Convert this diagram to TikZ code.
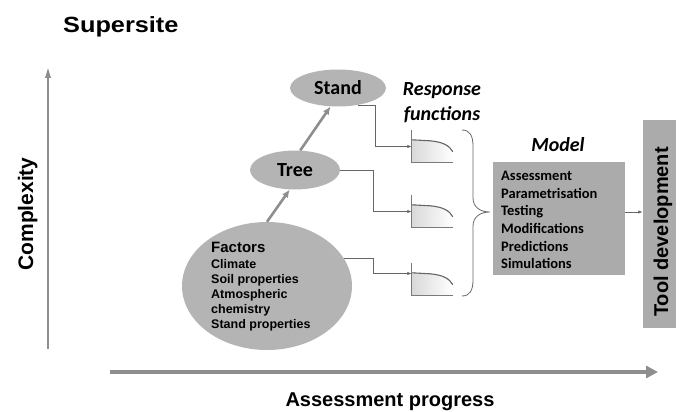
\documentclass[tikz,border=0pt]{standalone}
\usepackage{fontspec}
\setmainfont{Carlito}
\newfontfamily\arialf{Liberation Sans}
\newfontfamily\arialwide{Liberation Sans}[FakeStretch=1.15]
\usetikzlibrary{arrows.meta,shapes.geometric}

\definecolor{blobgray}{HTML}{B4B4B4}
\definecolor{boxgray}{HTML}{ABABAB}
\definecolor{arrowgray}{HTML}{8E8E8E}
\definecolor{wiregray}{HTML}{666666}
\definecolor{axisgray}{HTML}{7A7A7A}

\begin{document}
\begin{tikzpicture}[x=1pt,y=-1pt,
  blob/.style={ellipse, fill=blobgray, inner sep=0, text=black},
  blobtext/.style={font=\bfseries\fontsize{20}{24}\selectfont},
  growarrow/.style={draw=arrowgray, line width=2.6pt, -{Latex[length=8pt,width=7pt]}},
  wire/.style={draw=wiregray, line width=0.8pt, -{Latex[length=4.5pt,width=3.5pt]}},
  bracepen/.style={draw=wiregray, line width=0.8pt},
  rfbox/.style={rectangle, minimum width=41pt, minimum height=33pt, inner sep=0},
  greybox/.style={rectangle, fill=boxgray, inner sep=0},
  heading/.style={font=\arialf\bfseries\fontsize{20}{24}\selectfont, inner sep=0},
  respcurve/.pic={
    \fill[left color=gray!30, right color=white]
      (0,10) -- (18,11) .. controls (31,12) and (38,16) .. (41,22)
      -- (41,33) -- (0,33) -- cycle;
    \draw[axisgray, line width=0.9pt] (0,0) -- (0,33) -- (41,33);
    \draw[wiregray, line width=1.1pt]
      (0,10) -- (18,11) .. controls (31,12) and (38,16) .. (41,22);
  }
]
\useasboundingbox (0,0) rectangle (681,412);

% title and axis labels
\node[anchor=base west, inner sep=0, font=\arialwide\bfseries\fontsize{22}{26}\selectfont] (title) at (63,32.7) {Supersite};
\node[heading, rotate=90, anchor=base, font=\arialf\bfseries\fontsize{21}{25}\selectfont] (ylabel) at (33,214) {Complexity};
\node[heading, anchor=base] (xlabel) at (390,406.7) {Assessment progress};

% axes
\coordinate (ybot) at (48,349);
\coordinate (ytop) at (48,68);
\draw[draw=arrowgray, line width=1.6pt, -{Triangle[length=10pt,width=5.5pt]}] (ybot) -- (ytop);
\coordinate (xleft) at (110,372);
\coordinate (xright) at (658,372);
\draw[draw=arrowgray, line width=4.5pt, -{Triangle[length=12pt,width=12pt]}] (xleft) -- (xright);

% levels
\node[blob, minimum width=170pt, minimum height=128pt] (factors) at (267,286) {};
\node[anchor=north west, align=left, inner sep=0, text=black,
      font=\arialf\bfseries\fontsize{12.5}{15.2}\selectfont] (factorstext) at (211,242.3)
  {{\fontsize{15}{15.2}\selectfont Factors}\\Climate\\Soil properties\\Atmospheric\\chemistry\\Stand properties};
\node[blob, blobtext, minimum width=90pt, minimum height=39pt] (tree) at (295,170) {Tree};
\node[blob, blobtext, minimum width=96pt, minimum height=37pt] (stand) at (338,88) {Stand};

\draw[growarrow] (factors.north) -- (tree.-105);
\draw[growarrow] (tree.75) -- (stand.-112);

% response functions
\node[anchor=north, align=center, inner sep=0,
      font=\bfseries\itshape\fontsize{20}{25}\selectfont] (resp) at (442,82.1) {Response\\functions};
\node[rfbox] (rf1) at (432.5,146.5) {};
\node[rfbox] (rf2) at (432.5,211.5) {};
\node[rfbox] (rf3) at (432.5,279.5) {};
\pic at (rf1.north west) {respcurve};
\pic at (rf2.north west) {respcurve};
\pic at (rf3.north west) {respcurve};

\coordinate (bus) at (373,0);
\coordinate (bustop) at (375,0);
\draw[wire] (stand.-40) -- (stand.-40 -| bustop) |- (rf1.west);
\draw[wire] (tree.east) -- (tree.east -| bus) |- (rf2.west);
\draw[wire] (factors.20) -- (factors.20 -| bus) |- ([yshift=6pt]rf3.west);

% brace gathering the response functions
\draw[bracepen] (462,130) .. controls (470,130) and (473,136) .. (473,146)
  -- (473,198) .. controls (473,207) and (480,212) .. (490,212)
  .. controls (480,212) and (473,217) .. (473,226)
  -- (473,280) .. controls (473,290) and (470,296) .. (462,296);

% model
\node[anchor=base, inner sep=0, font=\bfseries\itshape\fontsize{20}{24}\selectfont] (modeltitle) at (558,152) {Model};
\node[greybox, minimum width=132pt, minimum height=113pt] (model) at (559,218.5) {};
\node[anchor=north west, align=left, inner sep=0, text=black,
      font=\bfseries\fontsize{14.5}{17.7}\selectfont] (modeltext) at (501,170.7)
  {Assessment\\Parametrisation\\Testing\\Modifications\\Predictions\\Simulations};

% tool development
\node[greybox, minimum width=33pt, minimum height=208pt] (tool) at (659.5,224) {};
\node[heading, rotate=90, anchor=base] (tooltext) at (668,232) {Tool development};

\coordinate (mout) at ([yshift=6.5pt]model.east);
\draw[wire] (mout) -- (mout -| tool.west);
\end{tikzpicture}
\end{document}
